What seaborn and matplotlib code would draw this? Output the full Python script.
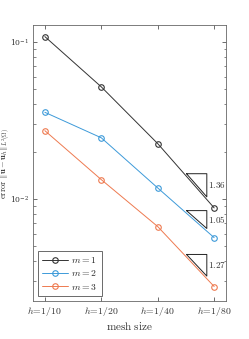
import numpy as np
import pandas as pd
import matplotlib
matplotlib.use("Agg")
import matplotlib.pyplot as plt
import seaborn as sns

# ── Data ────────────────────────────────────────────────────────────────────
mesh_labels = [r"$h\!=\!1/10$", r"$h\!=\!1/20$", r"$h\!=\!1/40$", r"$h\!=\!1/80$"]
err_m1 = [0.108, 0.0517, 0.0225, 0.00877]
err_m2 = [0.0356, 0.0245, 0.01175, 0.00567]
err_m3 = [0.0272, 0.01327, 0.00667, 0.00277]
series_labels = [r"$m = 1$", r"$m = 2$", r"$m = 3$"]
rates = [1.36, 1.05, 1.27]

colors = ["#333333", "#3D9AD9", "#EE7A50"]

df = pd.DataFrame({
    "x": list(range(len(mesh_labels))) * 3,
    "err": err_m1 + err_m2 + err_m3,
    "m": [s for s in series_labels for _ in mesh_labels],
})

# ── Style ───────────────────────────────────────────────────────────────────
sns.set_style("ticks")
plt.rcParams["font.family"] = ["DejaVu Serif"]
plt.rcParams["mathtext.fontset"] = "cm"
plt.rcParams["font.size"] = 7

fig = plt.figure(figsize=(2.49, 3.39), dpi=100)
ax = fig.add_axes([33 / 249, 1 - 301 / 339, (226 - 33) / 249, (301 - 25) / 339])

sns.lineplot(data=df, x="x", y="err", hue="m", palette=colors, marker="o",
             markersize=4, markerfacecolor="none", markeredgewidth=0.8,
             linewidth=0.7, ax=ax, legend=False)
for line, c in zip(ax.get_lines(), colors):
    line.set_markeredgecolor(c)

ax.set_yscale("log")
ax.set_xlim(-0.21, 3.21)
ax.set_ylim(0.00224, 0.128)
ax.set_xticks(range(len(mesh_labels)))
ax.set_xticklabels(mesh_labels, fontsize=7, color="#333333")
ax.tick_params(axis="both", which="both", direction="in", top=True, right=True,
               colors="#555555", labelcolor="#333333")
ax.tick_params(axis="both", which="major", length=3, width=0.6, pad=3)
ax.tick_params(axis="y", which="minor", length=1.8, width=0.5)
ax.tick_params(axis="y", labelsize=5.5, pad=3)
ax.set_xlabel(r"$\mathrm{mesh\ size}$", fontsize=8, color="#333333", labelpad=1)
ax.set_ylabel(r"$\mathrm{error}\ \Vert\mathbf{u}-\mathbf{u}_h\Vert_{L^2(\Omega)}$",
              fontsize=6.2, color="#333333")
ax.yaxis.set_label_coords(-0.106, 0.5)
for s in ax.spines.values():
    s.set_color("#666666")
    s.set_linewidth(0.6)

# ── Slope triangles on the last segment ────────────────────────────────────
x0, x1 = 2.51, 2.87
for errs, rate in zip([err_m1, err_m2, err_m3], rates):
    le3, le4 = np.log10(errs[2]), np.log10(errs[3])
    ly0 = le3 + (le4 - le3) * (x0 - 2)
    y0 = 10 ** ly0 * 1.04
    y1 = y0 / 2 ** (rate * (x1 - x0))
    ax.plot([x0, x1, x1, x0], [y0, y0, y1, y0], color="#222222", linewidth=0.7)
    ax.text(x1 + 0.02, np.sqrt(y0 * y1), rf"${rate:.2f}$", fontsize=6.5,
            va="center", ha="left", color="#333333")

# ── Legend ──────────────────────────────────────────────────────────────────
handles = ax.get_lines()[:3]
leg = ax.legend(handles, series_labels, loc="lower left", fontsize=7,
                frameon=True, fancybox=False, edgecolor="#444444",
                handlelength=2.6, borderpad=0.45, labelspacing=0.35,
                handletextpad=0.4, borderaxespad=0.5)
leg.get_frame().set_linewidth(0.7)

fig.savefig("out.png", dpi=100)
